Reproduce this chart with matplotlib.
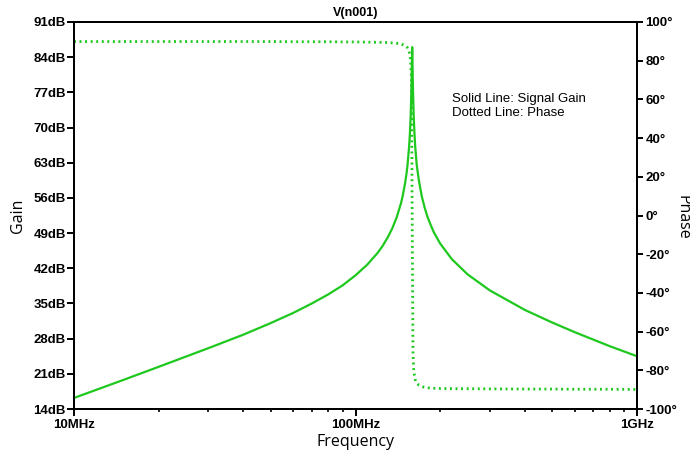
import matplotlib
matplotlib.use('Agg')
import matplotlib.pyplot as plt
from matplotlib.ticker import FixedLocator, LogLocator, NullFormatter

# AC sweep of node n001: frequency in MHz, gain in dB, phase in degrees
freq_mhz = [10, 15, 20, 30, 40, 50, 60, 70, 80, 90, 100, 110, 120, 125, 130, 135,
            140, 145, 147, 150, 152, 153, 155, 156, 157, 158, 159, 160, 161, 162,
            163, 165, 166, 168, 172, 176, 180, 185, 190, 200, 220, 250, 300, 400,
            500, 600, 700, 800, 1000]
gain_db = [16.2, 19.8, 22.4, 26.1, 28.8, 31.1, 33.1, 35.0, 36.8, 38.6, 40.6, 42.7,
           45.1, 46.5, 48.1, 49.9, 52.1, 54.9, 56.3, 58.9, 61.1, 62.5, 66.1, 68.6,
           72.0, 77.7, 86.0, 77.8, 72.2, 68.8, 66.2, 62.6, 61.5, 59.4, 56.3, 54.1,
           52.3, 50.6, 49.1, 46.9, 43.8, 40.8, 37.6, 33.7, 31.2, 29.3, 27.8, 26.5,
           24.5]
phase_deg = [89.9, 89.9, 89.9, 89.9, 89.9, 89.9, 89.8, 89.8, 89.8, 89.7, 89.7, 89.6,
             89.5, 89.5, 89.4, 89.2, 89.0, 88.6, 88.3, 87.8, 87.1, 86.6, 84.9, 83.2,
             79.8, 70.0, 0.0, -70.2, -79.9, -83.0, -84.9, -86.6, -87.0, -87.7, -88.4,
             -88.8, -89.0, -89.2, -89.3, -89.4, -89.5, -89.5, -89.6, -89.7, -89.7,
             -89.8, -89.8, -89.8, -89.9]

gain_ticks = list(range(14, 92, 7))
phase_ticks = list(range(-100, 101, 20))
freq_ticks = [10, 100, 1000]
freq_labels = ['10MHz', '100MHz', '1GHz']

green = '#1ec81e'
plt.rcParams['font.family'] = ['Liberation Sans', 'DejaVu Sans']
label_font = ['Open Sans', 'DejaVu Sans']

fig = plt.figure(figsize=(6.9, 4.55), dpi=100)
ax = fig.add_axes([74 / 690, 1 - 409 / 455, 563 / 690, 387 / 455])
ax2 = ax.twinx()

ax.plot(freq_mhz, gain_db, color=green, lw=1.6, solid_joinstyle='round')
ax2.plot(freq_mhz, phase_deg, color=green, lw=2.0, linestyle=(0, (0.7, 1.3)))

ax.set_xscale('log')
ax.set_xlim(10, 1000)
ax.set_ylim(14, 91)
ax2.set_ylim(-100, 100)

ax.xaxis.set_major_locator(FixedLocator(freq_ticks))
ax.set_xticklabels(freq_labels, fontweight='bold', fontsize=9.5)
ax.xaxis.set_minor_locator(LogLocator(base=10, subs=range(2, 10)))
ax.xaxis.set_minor_formatter(NullFormatter())

ax.set_yticks(gain_ticks)
ax.set_yticklabels([f'{g}dB' for g in gain_ticks], fontweight='bold', fontsize=9.5)
ax2.set_yticks(phase_ticks)
ax2.set_yticklabels([f'{p}°' for p in phase_ticks], fontweight='bold', fontsize=9.5)

for a in (ax, ax2):
    for s in a.spines.values():
        s.set_linewidth(1.4)
ax.tick_params(axis='both', which='major', direction='out', length=5, width=1.4, pad=1)
ax.tick_params(axis='x', which='major', length=5, pad=2)
ax.tick_params(axis='x', which='minor', direction='out', length=2.5, width=1.2)
ax2.tick_params(axis='y', direction='out', length=4, width=1.4, pad=2)

ax.set_title('V(n001)', fontsize=9, fontweight='bold', pad=4)
ax.set_xlabel('Frequency', family=label_font, fontsize=11.5, labelpad=2)
ax.set_ylabel('Gain', family=label_font, fontsize=11.5, labelpad=5)
fig.text(682 / 690, 1 - 217 / 455, 'Phase', family=label_font, fontsize=11.5,
         rotation=270, ha='center', va='center')

ax.text(452 / 690, 1 - 93 / 455, 'Solid Line: Signal Gain\nDotted Line: Phase',
        transform=fig.transFigure, fontsize=9.5, va='top', ha='left', linespacing=1.25)

fig.savefig('out.png', dpi=100)
